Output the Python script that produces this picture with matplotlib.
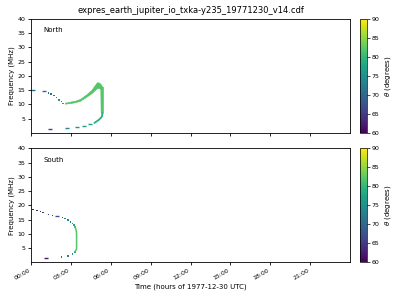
import matplotlib
matplotlib.use("Agg")
import matplotlib.pyplot as plt
import numpy as np
from matplotlib.colors import Normalize

TITLE = "expres_earth_jupiter_io_txka-y235_19771230_v14.cdf"
XTICKS = [0, 3, 6, 9, 12, 15, 18, 21]
XTICK_LABELS = ["00:00", "03:00", "06:00", "09:00", "12:00", "15:00", "18:00", "21:00"]
YTICKS = [5, 10, 15, 20, 25, 30, 35, 40]
CB_TICKS = [60, 65, 70, 75, 80, 85, 90]

# ---------------- North ----------------
# sparse dashes (time h, freq MHz, theta deg)
n_dash_t = [0.15, 0.95, 1.43, 2.68, 3.43, 3.97, 4.47]
n_dash_f = [15.1, 14.7, 1.4, 1.75, 2.1, 2.5, 3.05]
n_dash_th = [71, 71, 66, 74, 75, 76, 77]
# sparse dots
n_dot_t = [1.3, 1.52, 1.73, 1.93, 2.1, 2.3, 2.42]
n_dot_f = [14.1, 13.7, 13.1, 12.4, 11.6, 11.0, 10.4]
n_dot_th = [72, 72, 73, 74, 75, 76, 77]
# dense band (upper branch)
n_band_t = [2.55, 2.93, 3.3, 3.68, 4.18, 4.55, 4.8, 4.97, 5.1, 5.23, 5.36]
n_band_lo = [10.3, 10.5, 10.8, 11.3, 12.8, 14.0, 15.1, 15.8, 15.8, 15.5, 15.0]
n_band_hi = [10.6, 11.0, 11.3, 11.9, 13.6, 15.1, 16.8, 17.8, 17.7, 17.2, 16.2]
n_band_th = 82
# vertical part
n_vert_f = [7.0, 16.3]
n_vert_t0 = [5.22, 5.18]
n_vert_t1 = [5.44, 5.44]
n_vert_th = 82
# lower continuous curve
n_low_t = [4.73, 5.1, 5.33, 5.38]
n_low_f = [3.4, 4.6, 5.7, 7.2]
n_low_th = 79

# ---------------- South ----------------
s_dot_t = [0.17, 0.47, 0.73, 0.92, 1.3, 1.63, 2.38, 2.55, 2.8, 2.98, 3.13, 3.25, 3.32,
           3.3, 3.13, 2.8, 2.3]
s_dot_f = [18.55, 18.2, 17.85, 17.4, 16.7, 16.45, 15.75, 15.4, 14.8, 14.2, 13.65, 13.05, 12.45,
           3.7, 2.9, 2.2, 1.85]
s_dot_th = [62, 63, 63, 64, 65, 66, 70, 73, 74, 75, 76, 78, 80,
            78, 75, 72, 70]
s_dash_t = [1.98, 1.12]
s_dash_f = [16.2, 1.4]
s_dash_th = [68, 62]
s_vert_t = [3.32, 3.4, 3.43, 3.43, 3.4, 3.32]
s_vert_f = [12.4, 11.2, 10.0, 5.0, 4.4, 3.8]
s_vert_th = 82

cmap = plt.get_cmap("viridis")
norm = Normalize(vmin=60, vmax=90)

plt.rcParams['font.family'] = ['DejaVu Sans']
fig = plt.figure(figsize=(4, 3), dpi=100)
ax1 = fig.add_axes([0.0775, 0.5567, 0.7975, 0.38])
ax2 = fig.add_axes([0.0775, 0.1257, 0.7975, 0.38])
cax1 = fig.add_axes([0.9, 0.5567, 0.0175, 0.38])
cax2 = fig.add_axes([0.9, 0.1257, 0.0175, 0.38])

# North
ax1.fill_between(n_band_t, n_band_lo, n_band_hi, color=cmap(norm(n_band_th)), lw=0.5,
                 edgecolor=cmap(norm(n_band_th)))
ax1.fill_betweenx(n_vert_f, n_vert_t0, n_vert_t1, color=cmap(norm(n_vert_th)), lw=0)
ax1.plot(n_low_t, n_low_f, color=cmap(norm(n_low_th)), lw=1.3, solid_capstyle='butt')
ax1.scatter(n_dot_t, n_dot_f, c=n_dot_th, cmap=cmap, norm=norm, marker='s', s=1.2, linewidths=0)
sc1 = ax1.scatter(n_dash_t, n_dash_f, c=n_dash_th, cmap=cmap, norm=norm, marker='_', s=8, linewidths=1)

# South
ax2.plot(s_vert_t, s_vert_f, color=cmap(norm(s_vert_th)), lw=1.1)
ax2.scatter(s_dot_t, s_dot_f, c=s_dot_th, cmap=cmap, norm=norm, marker='s', s=1.2, linewidths=0)
sc2 = ax2.scatter(s_dash_t, s_dash_f, c=s_dash_th, cmap=cmap, norm=norm, marker='_', s=8, linewidths=1)

for ax, name in [(ax1, "North"), (ax2, "South")]:
    ax.set_xlim(0, 24)
    ax.set_ylim(0, 40)
    ax.set_yticks(YTICKS)
    ax.set_xticks(XTICKS)
    ax.tick_params(labelsize=4.5, length=2.5, width=0.6, pad=1.5)
    ax.set_ylabel("Frequency (MHz)", fontsize=5, labelpad=2)
    ax.text(0.04, 0.9, name, transform=ax.transAxes, fontsize=5, va='center', ha='left')
    for sp in ax.spines.values():
        sp.set_linewidth(0.6)

ax1.set_xticklabels([])
ax2.set_xticklabels(XTICK_LABELS, rotation=30, ha='right')
ax2.set_xlabel("Time (hours of 1977-12-30 UTC)", fontsize=5, labelpad=2)
ax1.set_title(TITLE, fontsize=6, pad=4)

for cax, sc in [(cax1, sc1), (cax2, sc2)]:
    cb = fig.colorbar(sc, cax=cax, ticks=CB_TICKS)
    cb.ax.tick_params(labelsize=4.5, length=2, width=0.5, pad=1)
    cb.set_label(r"$\theta$ (degrees)", fontsize=5, labelpad=3)
    cb.outline.set_linewidth(0.5)

fig.savefig("out.png", dpi=100)
